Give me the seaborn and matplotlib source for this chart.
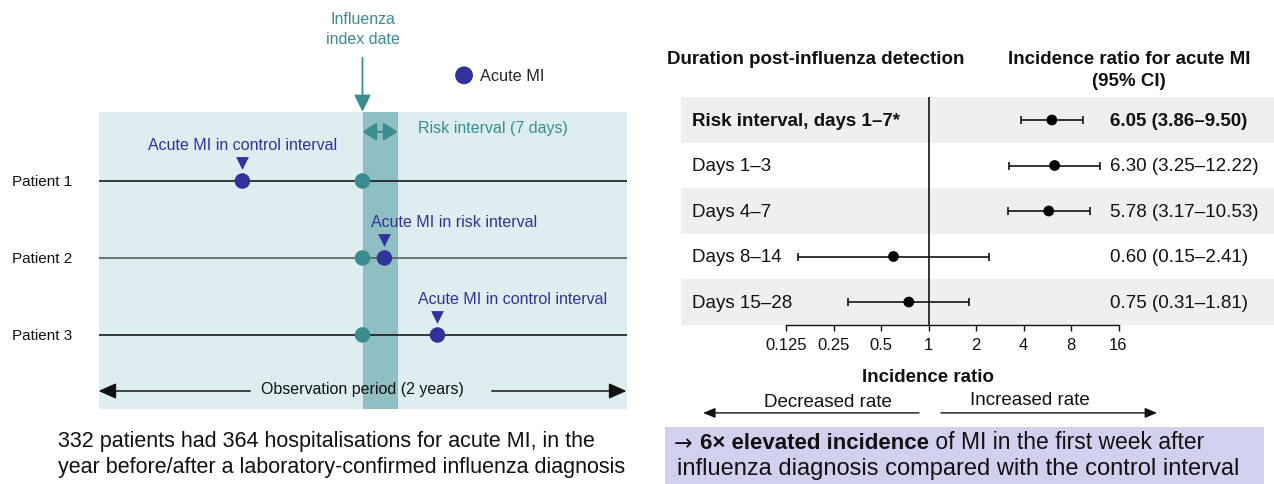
import matplotlib
matplotlib.use("Agg")
from matplotlib import pyplot as plt
from matplotlib.patches import Rectangle
from matplotlib.transforms import blended_transform_factory
import seaborn as sns
import numpy as np

# ---- data ----
patients = ["Patient 1", "Patient 2", "Patient 3"]
index_pos = [0, 0, 0]                      # influenza index date (schematic)
mi_pos = [-0.455, 0.083, 0.284]            # acute MI events (schematic, obs period = -1..1)
mi_labels = ["Acute MI in control interval", "Acute MI in risk interval",
             "Acute MI in control interval"]
risk_len = 0.133

periods = ["Risk interval, days 1–7*", "Days 1–3", "Days 4–7", "Days 8–14", "Days 15–28"]
ir = [6.05, 6.30, 5.78, 0.60, 0.75]
ci_lo = [3.86, 3.25, 3.17, 0.15, 0.31]
ci_hi = [9.50, 12.22, 10.53, 2.41, 1.81]
ticks = [0.125, 0.25, 0.5, 1, 2, 4, 8, 16]
tick_labels = ["0.125", "0.25", "0.5", "1", "2", "4", "8", "16"]

TEAL = "#3a8c8e"
BLUE = "#31339a"
BOX = "#dceef0"
BAND = "#8fbfc3"
GREY = "#efefef"
LAVENDER = "#d1d1ef"
INK = "#111111"

sns.set_theme(style="white")
plt.rcParams["font.family"] = ["Liberation Sans", "DejaVu Sans"]

W, H = 1274, 485
fig = plt.figure(figsize=(W / 100, H / 100), dpi=100)


def px_rect(x0, y0, x1, y1):
    return [x0 / W, 1 - y1 / H, (x1 - x0) / W, (y1 - y0) / H]


# ---- left: study design schematic ----
axL = fig.add_axes(px_rect(0, 0, 645, 425))
xs, x0 = 264.0, 362.5
ys, y0 = 77.0, 182.0
axL.set_xlim(-x0 / xs, (645 - x0) / xs)
axL.set_ylim(1 + (425 - y0) / ys, 1 - y0 / ys)
axL.set_axis_off()

rows = np.arange(1, len(patients) + 1)
box_top, box_bot = 0.1, 3.96
axL.add_patch(Rectangle((-1, box_top), 2, box_bot - box_top, color=BOX, lw=0, zorder=0))
axL.add_patch(Rectangle((0, box_top), risk_len, box_bot - box_top, color=BAND, lw=0, zorder=0.5))

axL.hlines(rows, -1, 1, colors=["#1a1a1a", "#56605f", "#1a1a1a"], lw=1.2, zorder=1)
for r, name in zip(rows, patients):
    axL.text(-1.328, r, name, ha="left", va="center", fontsize=11, color=INK)

sns.scatterplot(x=index_pos, y=rows, color=TEAL, s=125, edgecolor="none", zorder=3, ax=axL)
sns.scatterplot(x=mi_pos, y=rows, color=BLUE, s=125, edgecolor="none", zorder=3, ax=axL,
                label="Acute MI")
axL.scatter(mi_pos, rows - 0.23, marker="v", s=85, color=BLUE, lw=0, zorder=3)

label_ha = ["center", "left", "left"]
label_dx = [0, -0.05, -0.072]
for p, r, lab, ha, dx in zip(mi_pos, rows, mi_labels, label_ha, label_dx):
    axL.text(p + dx, r - 0.47, lab, ha=ha, va="center", fontsize=11.5, color=BLUE)

# index date arrow + label
axL.annotate("", xy=(0, box_top), xytext=(0, -0.6),
             arrowprops=dict(arrowstyle="-|>,head_length=0.85,head_width=0.42",
                             color=TEAL, lw=1.3, shrinkA=0, shrinkB=0))
axL.text(0, -1.104, "Influenza", ha="center", va="center", fontsize=11.5, color=TEAL)
axL.text(0, -0.857, "index date", ha="center", va="center", fontsize=11.5, color=TEAL)

# risk interval
axL.annotate("", xy=(0, 0.36), xytext=(risk_len, 0.36),
             arrowprops=dict(arrowstyle="<|-|>,head_length=0.7,head_width=0.45",
                             color=TEAL, lw=1.6, shrinkA=0, shrinkB=0))
axL.text(risk_len + 0.076, 0.30, "Risk interval (7 days)", ha="left", va="center",
         fontsize=11.5, color=TEAL)

# observation period
obs_y = 3.727
axL.text(0, obs_y - 0.03, "Observation period (2 years)", ha="center", va="center",
         fontsize=11.5, color=INK)
for a, b in [(-0.425, -1), (0.49, 1)]:
    axL.annotate("", xy=(b, obs_y), xytext=(a, obs_y),
                 arrowprops=dict(arrowstyle="-|>,head_length=0.9,head_width=0.4",
                                 color=INK, lw=1.1, shrinkA=0, shrinkB=0))

axL.legend(loc="center left", bbox_to_anchor=(0.36, -0.375),
           bbox_transform=axL.transData, frameon=False, fontsize=11.7,
           handlelength=0.8, handletextpad=0.6, borderpad=0, borderaxespad=0,
           markerscale=1.15)

fig.text(58 / W, 1 - 442 / H, "332 patients had 364 hospitalisations for acute MI, in the",
         ha="left", va="center", fontsize=15.5, color=INK)
fig.text(58 / W, 1 - 468 / H, "year before/after a laboratory-confirmed influenza diagnosis",
         ha="left", va="center", fontsize=15.5, color=INK)

# ---- right: forest plot ----
axR = fig.add_axes(px_rect(681, 98.25, 1274, 326))
ps, p1 = 47.5, 928.5
axR.set_xscale("log", base=2)
axR.set_xlim(2 ** ((681 - p1) / ps), 2 ** ((1274 - p1) / ps))
n = len(periods)
axR.set_ylim(n - 0.5 + 0.005, -0.5)
yr = np.arange(n)

for i in yr[::2]:
    axR.axhspan(i - 0.5, i + 0.5, color=GREY, lw=0, zorder=0)
axR.axvline(1, color="black", lw=1.1, zorder=1)

ir_a, lo_a, hi_a = np.array(ir), np.array(ci_lo), np.array(ci_hi)
axR.errorbar(ir_a, yr, xerr=[ir_a - lo_a, hi_a - ir_a], fmt="none", ecolor="black",
             elinewidth=1.1, capsize=3, capthick=1.1, zorder=2)
sns.scatterplot(x=ir, y=yr, color="black", s=60, edgecolor="none", zorder=3, ax=axR)

blend = blended_transform_factory(axR.transAxes, axR.transData)
for i, (lab, v, lo, hi) in enumerate(zip(periods, ir, ci_lo, ci_hi)):
    w = "bold" if i == 0 else "normal"
    axR.text(0.0185, i, lab, transform=blend, ha="left", va="center", fontsize=13.5,
             fontweight=w, color=INK)
    axR.text(0.7234, i, f"{v:.2f} ({lo:.2f}–{hi:.2f})", transform=blend, ha="left",
             va="center", fontsize=13.5, fontweight=w, color=INK)

axR.set_xticks(ticks)
axR.set_xticklabels(tick_labels)
axR.minorticks_off()
axR.set_yticks([])
axR.tick_params(axis="x", direction="out", length=4, width=1, pad=5, labelsize=12,
                colors=INK, bottom=True)
for s in ["top", "right", "left"]:
    axR.spines[s].set_visible(False)
axR.spines["bottom"].set_color(INK)
axR.spines["bottom"].set_linewidth(1)
axR.spines["bottom"].set_bounds(0.125, 16)
axR.grid(False)
axR.set_facecolor("none")

blendx = blended_transform_factory(axR.transData, axR.transAxes)
axR.text(1, -0.228, "Incidence ratio", transform=blendx, ha="center", va="center",
         fontsize=13.5, fontweight="bold", color=INK)
axR.text(0.2307, -0.334, "Decreased rate", transform=blendx, ha="center", va="center",
         fontsize=13.5, color=INK)
axR.text(4.4, -0.325, "Increased rate", transform=blendx, ha="center", va="center",
         fontsize=13.5, color=INK)
for a, b in [(0.87, 0.0373), (1.2, 28.1)]:
    axR.annotate("", xy=(b, -0.386), xytext=(a, -0.386), xycoords=blendx,
                 textcoords=blendx, annotation_clip=False,
                 arrowprops=dict(arrowstyle="-|>,head_length=0.6,head_width=0.25",
                                 color=INK, lw=1, shrinkA=0, shrinkB=0))

fig.text(667 / W, 1 - 59 / H, "Duration post-influenza detection", ha="left", va="center",
         fontsize=13.5, fontweight="bold", color=INK)
fig.text(1129 / W, 1 - 60 / H, "Incidence ratio for acute MI", ha="center", va="center",
         fontsize=13.5, fontweight="bold", color=INK)
fig.text(1129 / W, 1 - 82 / H, "(95% CI)", ha="center", va="center",
         fontsize=13.5, fontweight="bold", color=INK)

# ---- conclusion box ----
fig.add_artist(Rectangle((665 / W, 0), (1264 - 665) / W, (H - 428) / H,
                         transform=fig.transFigure, color=LAVENDER, lw=0, zorder=0))
renderer = fig.canvas.get_renderer()
pieces = [("→ ", "normal", ["DejaVu Sans"], 16),
          ("6× elevated incidence", "bold", None, 16),
          (" of MI in the first week after", "normal", None, 16.5)]
x_px = 674
for txt, weight, fam, size in pieces:
    kw = {"family": fam} if fam else {}
    t = fig.text(x_px / W, 1 - 454 / H, txt, ha="left", va="bottom", fontsize=size,
                 fontweight=weight, color=INK, **kw)
    x_px = t.get_window_extent(renderer=renderer).x1
fig.text(677 / W, 1 - 469 / H, "influenza diagnosis compared with the control interval",
         ha="left", va="center", fontsize=17, color=INK)

fig.savefig("out.png", dpi=100)
